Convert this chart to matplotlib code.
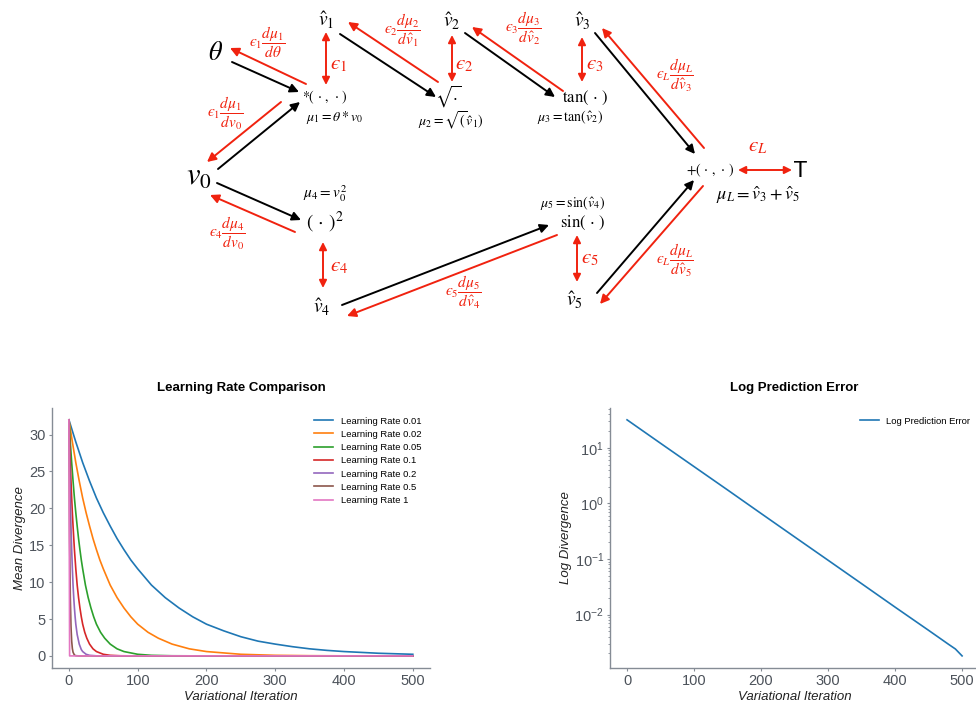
import matplotlib
matplotlib.use("Agg")
import matplotlib.pyplot as plt

# ---- data ----
lr_labels = ["Learning Rate 0.01", "Learning Rate 0.02", "Learning Rate 0.05",
             "Learning Rate 0.1", "Learning Rate 0.2", "Learning Rate 0.5", "Learning Rate 1"]

it_001 = [0, 10, 20, 30, 40, 50, 60, 70, 80, 90, 100, 120, 140, 160, 180, 200,
          225, 250, 275, 300, 325, 350, 375, 400, 450, 500]
div_001 = [32.0, 29.0, 26.2, 23.7, 21.4, 19.4, 17.6, 15.9, 14.4, 13.0, 11.8, 9.6, 7.9, 6.5,
           5.3, 4.3, 3.4, 2.6, 2.0, 1.6, 1.25, 0.96, 0.75, 0.59, 0.36, 0.22]
it_002 = [0, 5, 10, 15, 20, 25, 30, 35, 40, 45, 50, 60, 70, 80, 90, 100, 115, 130, 150,
          175, 200, 250, 300, 350, 400, 500]
div_002 = [32.0, 29.0, 26.2, 23.7, 21.4, 19.4, 17.6, 15.9, 14.4, 13.0, 11.8, 9.6, 7.9, 6.5,
           5.3, 4.3, 3.2, 2.4, 1.6, 0.96, 0.59, 0.22, 0.08, 0.03, 0.01, 0.0]
it_005 = [0, 2, 4, 6, 8, 10, 12, 14, 16, 18, 20, 24, 28, 32, 36, 40, 46, 52, 60, 70, 80,
          100, 120, 150, 200, 500]
div_005 = [32.0, 29.0, 26.2, 23.7, 21.4, 19.4, 17.6, 15.9, 14.4, 13.0, 11.8, 9.6, 7.9, 6.5,
           5.3, 4.3, 3.2, 2.4, 1.6, 0.96, 0.59, 0.22, 0.08, 0.02, 0.0, 0.0]
it_01 = [0, 1, 2, 3, 4, 5, 6, 8, 10, 12, 14, 16, 18, 20, 23, 26, 30, 35, 40, 50, 60, 75,
         100, 500]
div_01 = [32.0, 29.0, 26.2, 23.7, 21.4, 19.4, 17.6, 14.4, 11.8, 9.6, 7.9, 6.5, 5.3, 4.3,
          3.2, 2.4, 1.6, 0.96, 0.59, 0.22, 0.08, 0.02, 0.0, 0.0]
it_02 = [0, 1, 2, 3, 4, 5, 6, 7, 8, 9, 10, 12, 15, 18, 20, 25, 30, 40, 500]
div_02 = [32.0, 26.2, 21.4, 17.6, 14.4, 11.8, 9.6, 7.9, 6.5, 5.3, 4.3, 2.9, 1.6, 0.86,
          0.59, 0.22, 0.08, 0.01, 0.0]
it_05 = [0, 1, 2, 3, 4, 5, 6, 8, 10, 15, 500]
div_05 = [32.0, 16.0, 8.0, 4.0, 2.0, 1.0, 0.5, 0.12, 0.03, 0.0, 0.0]
it_1 = [0, 1, 500]
div_1 = [32.0, 0.0, 0.0]

lr_iters = [it_001, it_002, it_005, it_01, it_02, it_05, it_1]
lr_divs = [div_001, div_002, div_005, div_01, div_02, div_05, div_1]

log_iter = [0, 50, 100, 150, 200, 250, 300, 350, 400, 450, 480, 490, 500]
log_err = [32.0, 12.1, 4.6, 1.75, 0.66, 0.25, 0.095, 0.036, 0.0136, 0.0052, 0.0029, 0.0024, 0.0018]

# ---- computation graph (pixel layout of the diagram) ----
black_edges = [((232, 62), (299, 92)), ((218, 169), (300, 102)), ((340, 34), (436, 97)),
               ((465, 33), (555, 97)), ((595, 33), (695, 154)), ((217, 183), (301, 220)),
               ((342, 305), (549, 225)), ((597, 293), (694, 180))]
red_edges = [((306, 84), (230, 48)), ((281, 102), (207, 162)), ((438, 82), (348, 22)),
             ((563, 91), (472, 27)), ((704, 148), (602, 28)), ((295, 232), (210, 195)),
             ((557, 235), (347, 316)), ((703, 186), (600, 304))]
red_double = [((326, 32), (326, 85)), ((452, 35), (452, 82)), ((582, 37), (582, 82)),
              ((323, 242), (323, 288)), ((577, 235), (577, 282)), ((738, 170), (792, 170))]

E = "\u03f5"
red_labels = [
    ("$" + E + r"_1\dfrac{d\mu_1}{d\theta}$", (267, 42), 11),
    ("$" + E + r"_1\dfrac{d\mu_1}{dv_0}$", (225, 113), 11),
    ("$" + E + r"_2\dfrac{d\mu_2}{d\hat{v}_1}$", (402, 30), 11),
    ("$" + E + r"_3\dfrac{d\mu_3}{d\hat{v}_2}$", (523, 28), 11),
    ("$" + E + r"_L\dfrac{d\mu_L}{d\hat{v}_3}$", (675, 75), 11),
    ("$" + E + r"_4\dfrac{d\mu_4}{dv_0}$", (227, 233), 11),
    ("$" + E + r"_5\dfrac{d\mu_5}{d\hat{v}_4}$", (463, 292), 11),
    ("$" + E + r"_L\dfrac{d\mu_L}{d\hat{v}_5}$", (675, 260), 11),
    ("$" + E + "_1$", (339, 65), 15),
    ("$" + E + "_2$", (464, 65), 15),
    ("$" + E + "_3$", (595, 65), 15),
    ("$" + E + "_4$", (339, 266), 15),
    ("$" + E + "_5$", (590, 259), 15),
    ("$" + E + "_L$", (758, 147), 15),
]
black_labels = [
    (r"$\theta$", (216, 53), 19),
    (r"$v_0$", (199, 177), 22),
    (r"$\hat{v}_1$", (326, 20), 14),
    (r"$\hat{v}_2$", (452, 21), 14),
    (r"$\hat{v}_3$", (582, 21), 14),
    (r"$\hat{v}_4$", (322, 307), 14),
    (r"$\hat{v}_5$", (575, 300), 14),
    (r"$*(\,\cdot\,,\,\cdot\,)$", (325, 97), 10),
    (r"$\mu_1=\theta*v_0$", (335, 118), 10),
    (r"$\sqrt{\cdot}$", (448, 96), 12),
    (r"$\mu_2=\sqrt{(}\hat{v}_1)$", (451, 121), 10),
    (r"$\tan(\,\cdot\,)$", (585, 98), 12),
    (r"$\mu_3=\tan(\hat{v}_2)$", (570, 117), 10),
    (r"$\mu_4=v_0^2$", (325, 194), 11),
    (r"$(\,\cdot\,)^2$", (325, 222), 14),
    (r"$\mu_5=\sin(\hat{v}_4)$", (573, 203), 10),
    (r"$\sin(\,\cdot\,)$", (583, 223), 12),
    (r"$+(\,\cdot\,,\,\cdot\,)$", (710, 170), 10),
    (r"$\mu_L=\hat{v}_3+\hat{v}_5$", (758, 195), 13),
]

RED = "#f0220f"
SPINE = "#858c95"
TICKC = "#4c525a"

plt.rcParams["font.family"] = ["Liberation Sans", "DejaVu Sans"]

fig = plt.figure(figsize=(9.76, 7.08), dpi=100)

# diagram drawn in pixel coordinates over the whole figure
dg = fig.add_axes([0, 0, 1, 1])
dg.set_xlim(0, 976)
dg.set_ylim(708, 0)
dg.axis("off")

for (s, e) in black_edges:
    dg.annotate("", xy=e, xytext=s,
                arrowprops=dict(arrowstyle="-|>", color="black", lw=1.4,
                                mutation_scale=13, shrinkA=0, shrinkB=0))
for (s, e) in red_edges:
    dg.annotate("", xy=e, xytext=s,
                arrowprops=dict(arrowstyle="-|>", color=RED, lw=1.4,
                                mutation_scale=13, shrinkA=0, shrinkB=0))
for (s, e) in red_double:
    dg.annotate("", xy=e, xytext=s,
                arrowprops=dict(arrowstyle="<|-|>", color=RED, lw=1.4,
                                mutation_scale=11, shrinkA=0, shrinkB=0))
for txt, (x, y), fs in red_labels:
    dg.text(x, y, txt, color=RED, fontsize=fs, ha="center", va="center",
            math_fontfamily="stix")
for txt, (x, y), fs in black_labels:
    dg.text(x, y, txt, color="black", fontsize=fs, ha="center", va="center",
            math_fontfamily="stix")
dg.text(800, 171, "T", fontsize=15, ha="center", va="center", family="DejaVu Sans")


def style_axes(ax):
    for side in ["top", "right"]:
        ax.spines[side].set_visible(False)
    for side in ["left", "bottom"]:
        ax.spines[side].set_color(SPINE)
        ax.spines[side].set_linewidth(1.0)
    ax.tick_params(colors=SPINE, labelcolor=TICKC, labelsize=10.5, length=2.5, width=0.8, pad=2)
    ax.tick_params(which="minor", colors=SPINE, length=1.5, width=0.6)


# left: learning rate comparison
ax1 = fig.add_axes([0.053, 0.0569, 0.3876, 0.3668])
for xs, ys, lab in zip(lr_iters, lr_divs, lr_labels):
    ax1.plot(xs, ys, lw=1.2, label=lab)
ax1.set_xticks([0, 100, 200, 300, 400, 500])
ax1.set_yticks([0, 5, 10, 15, 20, 25, 30])
style_axes(ax1)
ax1.set_title("Learning Rate Comparison", fontsize=9.5, fontweight="bold", pad=12)
ax1.set_xlabel("Variational Iteration", fontsize=9.5, style="italic", color="#222222", labelpad=2)
ax1.set_ylabel("Mean Divergence", fontsize=9.5, style="italic", color="#222222", labelpad=2)
ax1.legend(loc="upper right", frameon=False, fontsize=6.8, handlelength=2.0,
           labelspacing=0.45, bbox_to_anchor=(1.0, 1.0))

# right: log prediction error
ax2 = fig.add_axes([0.6253, 0.0569, 0.3776, 0.3668])
ax2.plot(log_iter, log_err, lw=1.2, color="#1f77b4", label="Log Prediction Error")
ax2.set_yscale("log")
ax2.set_xticks([0, 100, 200, 300, 400, 500])
style_axes(ax2)
ax2.set_title("Log Prediction Error", fontsize=9.5, fontweight="bold", pad=12)
ax2.set_xlabel("Variational Iteration", fontsize=9.5, style="italic", color="#222222", labelpad=2)
ax2.set_ylabel("Log Divergence", fontsize=9.5, style="italic", color="#222222", labelpad=2)
ax2.legend(loc="upper right", frameon=False, fontsize=6.8, handlelength=2.0,
           bbox_to_anchor=(1.0, 1.0))

fig.savefig("out.png", dpi=100)
